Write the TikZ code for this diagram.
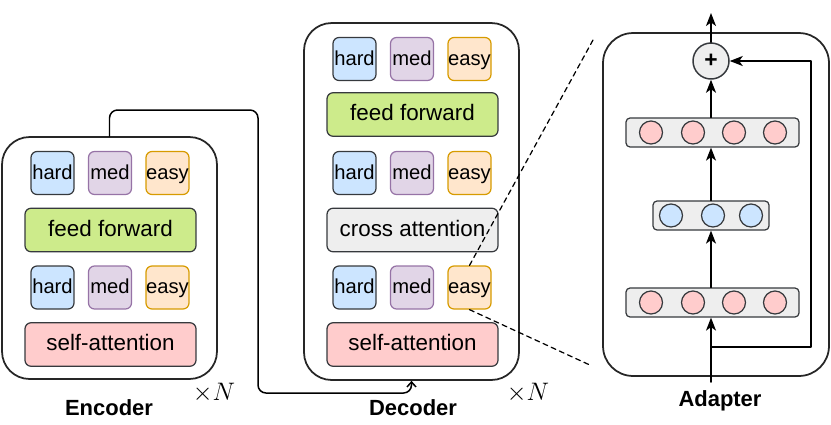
\documentclass[tikz,border=0pt]{standalone}
\usepackage{fontspec}
\setmainfont{Liberation Sans}
\usetikzlibrary{arrows.meta}

\definecolor{hardfill}{HTML}{CCE5FF}
\definecolor{medfill}{HTML}{E1D5E7}
\definecolor{meddraw}{HTML}{9673A6}
\definecolor{easyfill}{HTML}{FFE6CC}
\definecolor{easydraw}{HTML}{D79B00}
\definecolor{fffill}{HTML}{CDEB8B}
\definecolor{safill}{HTML}{FFCCCC}
\definecolor{greyfill}{HTML}{EEEEEE}
\definecolor{edge}{HTML}{36393D}

\begin{document}
\begin{tikzpicture}[x=0.02cm,y=-0.02cm,line cap=round,line join=round,
  block/.style={draw=black!85,line width=1pt,rounded corners=0.55cm,inner sep=0pt},
  expert/.style={draw=edge,line width=0.7pt,rounded corners=0.12cm,minimum width=0.86cm,
    minimum height=0.86cm,inner sep=0pt,text height=0.72em,text depth=0em,
    font=\fontsize{11.5}{13}\selectfont},
  hardbox/.style={expert,fill=hardfill},
  medbox/.style={expert,fill=medfill,draw=meddraw},
  easybox/.style={expert,fill=easyfill,draw=easydraw},
  sublayer/.style={draw=edge,line width=0.7pt,rounded corners=0.12cm,minimum width=3.42cm,
    minimum height=0.87cm,inner sep=0pt,text height=0.72em,text depth=0em,
    font=\fontsize{12.75}{15}\selectfont},
  vecbox/.style={draw=edge,line width=0.7pt,fill=greyfill,rounded corners=0.08cm,
    minimum height=0.58cm,inner sep=0pt},
  unit/.style={circle,draw=edge,line width=0.7pt,minimum size=0.46cm,inner sep=0pt},
  title/.style={font=\fontsize{12.5}{15}\selectfont\bfseries},
  repeat/.style={font=\fontsize{14}{16}\selectfont},
  arr/.style={line width=0.85pt,-{Stealth[length=0.26cm,width=0.2cm,inset=0.07cm]}},
  zoomline/.style={line width=0.7pt,dash pattern=on 0.1cm off 0.08cm}]
  \useasboundingbox (0,0) rectangle (831,424);

  % encoder
  \node[block,minimum width=4.3cm,minimum height=4.84cm] (enc) at (109.5,258) {};
  \node[hardbox] (ehard1) at (52.5,173) {hard};
  \node[medbox] (emed1) at (110,173) {med};
  \node[easybox] (eeasy1) at (167.5,173) {easy};
  \node[sublayer,fill=fffill] (eff) at (110.5,230) {feed forward};
  \node[hardbox] (ehard2) at (52.5,287.5) {hard};
  \node[medbox] (emed2) at (110,287.5) {med};
  \node[easybox] (eeasy2) at (167.5,287.5) {easy};
  \node[sublayer,fill=safill] (esa) at (110.5,344.5) {self-attention};
  \node[title] (enclabel) at (109,408) {Encoder};
  \node[repeat] (encrep) at (214,393) {$\times N$};

  % decoder
  \node[block,minimum width=4.3cm,minimum height=7.14cm] (dec) at (411.5,201.5) {};
  \node[hardbox] (dhard1) at (354.5,59) {hard};
  \node[medbox] (dmed1) at (412,59) {med};
  \node[easybox] (deasy1) at (469.5,59) {easy};
  \node[sublayer,fill=fffill] (dff) at (412.5,114.5) {feed forward};
  \node[hardbox] (dhard2) at (354.5,173) {hard};
  \node[medbox] (dmed2) at (412,173) {med};
  \node[easybox] (deasy2) at (469.5,173) {easy};
  \node[sublayer,fill=greyfill] (dca) at (412.5,230) {cross attention};
  \node[hardbox] (dhard3) at (354.5,287.5) {hard};
  \node[medbox] (dmed3) at (412,287.5) {med};
  \node[easybox] (deasy3) at (469.5,287.5) {easy};
  \node[sublayer,fill=safill] (dsa) at (412.5,344.5) {self-attention};
  \node[title] (declabel) at (413,408) {Decoder};
  \node[repeat] (decrep) at (528,393) {$\times N$};

  % encoder output into decoder
  \coordinate (c1) at (258,110);
  \coordinate (c2) at (258,393);
  \coordinate (c3) at (411.5,393);
  \draw[line width=0.85pt,rounded corners=0.16cm,-{Straight Barb[length=0.1cm,width=0.18cm]}]
    (enc.north) |- (c1) -- (c2) -- (c3) -- (dec.south);

  % adapter
  \node[block,minimum width=4.52cm,minimum height=6.86cm,rounded corners=0.6cm] (ada) at (716,204.5) {};
  \node[circle,draw=edge,line width=0.85pt,fill=greyfill,minimum size=0.72cm,inner sep=0pt,
    font=\fontsize{13}{13}\selectfont\bfseries] (plus) at (711,61) {+};
  \node[vecbox,minimum width=3.46cm] (up) at (712.5,132.5) {};
  \node[unit,fill=safill] (u1) at (651,132.5) {};
  \node[unit,fill=safill] (u2) at (693,132.5) {};
  \node[unit,fill=safill] (u3) at (734,132.5) {};
  \node[unit,fill=safill] (u4) at (775,132.5) {};
  \node[vecbox,minimum width=2.32cm] (mid) at (711,215.5) {};
  \node[unit,fill=hardfill] (m1) at (671,215.5) {};
  \node[unit,fill=hardfill] (m2) at (713,215.5) {};
  \node[unit,fill=hardfill] (m3) at (751,215.5) {};
  \node[vecbox,minimum width=3.46cm] (low) at (712.5,302.5) {};
  \node[unit,fill=safill] (l1) at (651,302.5) {};
  \node[unit,fill=safill] (l2) at (693,302.5) {};
  \node[unit,fill=safill] (l3) at (734,302.5) {};
  \node[unit,fill=safill] (l4) at (775,302.5) {};
  \node[title] (adalabel) at (720,401) {Adapter};

  \coordinate (in) at (711,382);
  \coordinate (res) at (711,347);
  \coordinate (skip) at (811,347);
  \coordinate (out) at (711,13);
  \draw[arr] (in) -- (low.south -| in);
  \draw[arr] (low.north -| in) -- (mid.south -| in);
  \draw[arr] (mid.north -| in) -- (up.south -| in);
  \draw[arr] (up.north -| in) -- (plus.south);
  \draw[arr] (plus.north) -- (out);
  \draw[arr] (res) -- (skip) |- (plus.east);

  % zoom lines
  \coordinate (ztop) at (593,40);
  \coordinate (zbot) at (592,366);
  \draw[zoomline] (deasy3.north) -- (ztop);
  \draw[zoomline] (deasy3.south) -- (zbot);
\end{tikzpicture}
\end{document}
